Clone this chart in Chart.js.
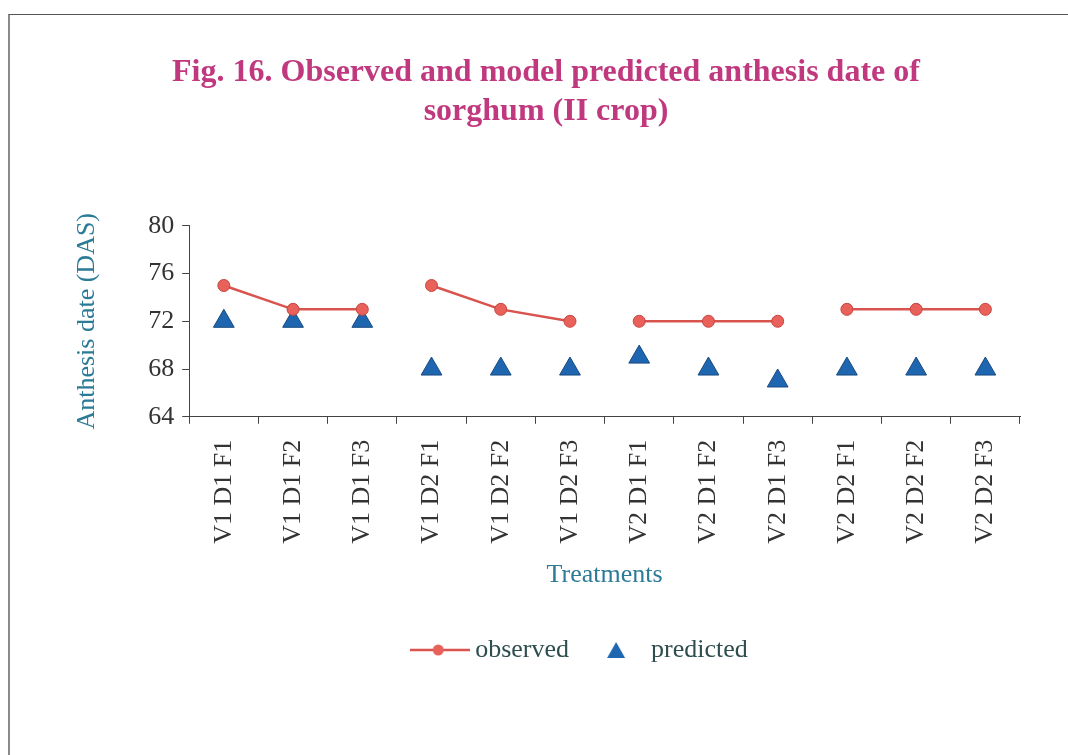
<!DOCTYPE html>
<html>
<head>
<meta charset="utf-8">
<script src="https://cdn.jsdelivr.net/npm/chart.js@4.4.1/dist/chart.umd.min.js"></script>
<style>
    html, body { margin: 0; padding: 0; background: #fff; }
    #wrap { position: absolute; left: 0; top: 0; width: 1068px; height: 755px; }
    #frame { position: absolute; left: 8px; top: 14px; right: 0; bottom: 0;
             border-top: 1px solid #555; border-left: 2px solid #8a8a8a; pointer-events: none; }
</style>
</head>
<body>
<div id="wrap"><canvas id="anthesisChart"></canvas></div>
<div id="frame"></div>
<script>
// Chart data
const treatments = ['V1 D1 F1', 'V1 D1 F2', 'V1 D1 F3', 'V1 D2 F1', 'V1 D2 F2', 'V1 D2 F3',
                    'V2 D1 F1', 'V2 D1 F2', 'V2 D1 F3', 'V2 D2 F1', 'V2 D2 F2', 'V2 D2 F3'];
const observed = [75, 73, 73, 75, 73, 72, 72, 72, 72, 73, 73, 73];
const predicted = [72, 72, 72, 68, 68, 68, 69, 68, 67, 68, 68, 68];
const groupSize = 3;   // observed line is broken between treatment groups
const yTicks = [64, 68, 72, 76, 80];

const serif = "'Liberation Serif', 'Times New Roman', serif";
const lineColor = '#d9544e';
const triColor = '#1f66b1';

// Legend symbols
function legendLine() {
    const c = document.createElement('canvas');
    c.width = 60; c.height = 14;
    const g = c.getContext('2d');
    g.strokeStyle = lineColor; g.lineWidth = 2.5;
    g.beginPath(); g.moveTo(0, 7); g.lineTo(60, 7); g.stroke();
    g.fillStyle = '#e8615a'; g.beginPath(); g.arc(28, 7, 5.5, 0, Math.PI * 2); g.fill();
    return c;
}
function legendTriangle() {
    const c = document.createElement('canvas');
    c.width = 20; c.height = 18;
    const g = c.getContext('2d');
    g.fillStyle = triColor;
    g.beginPath(); g.moveTo(10, 1); g.lineTo(19, 17); g.lineTo(1, 17); g.closePath(); g.fill();
    return c;
}

// nudge the legend to the right, the original one is not centred on the title
const legendShift = {
    id: 'legendShift',
    afterLayout(chart) {
        chart.legend.left += 37;
        chart.legend.right += 37;
    }
};

document.addEventListener('DOMContentLoaded', function () {
    const ctx = document.getElementById('anthesisChart').getContext('2d');
    new Chart(ctx, {
        type: 'line',
        data: {
            labels: treatments,
            datasets: [{
                label: 'observed',
                data: observed,
                borderColor: lineColor,
                borderWidth: 2.5,
                pointBackgroundColor: '#e8615a',
                pointBorderColor: '#c9443e',
                pointBorderWidth: 1,
                pointRadius: 6,
                tension: 0,
                segment: {
                    borderColor: c => (c.p0DataIndex % groupSize === groupSize - 1) ? 'transparent' : undefined
                }
            }, {
                label: 'predicted',
                data: predicted,
                showLine: false,
                pointStyle: 'triangle',
                pointRadius: 12,
                pointBackgroundColor: triColor,
                pointBorderColor: '#184a80',
                pointBorderWidth: 1
            }]
        },
        plugins: [legendShift],
        options: {
            responsive: true,
            maintainAspectRatio: false,
            animation: false,
            layout: { padding: { left: 72, right: 48, top: 0, bottom: 82 } },
            plugins: {
                title: {
                    display: true,
                    text: ['Fig. 16. Observed and model predicted anthesis date of', 'sorghum (II crop)'],
                    color: '#c0397f',
                    font: { family: serif, size: 32, weight: 'bold', lineHeight: 1.2 },
                    padding: { top: 54, bottom: 95 }
                },
                legend: {
                    position: 'bottom',
                    labels: {
                        usePointStyle: true,
                        pointStyleWidth: 44,
                        padding: 25,
                        color: '#2e4d4f',
                        font: { family: serif, size: 26 },
                        generateLabels: chart => chart.data.datasets.map((ds, i) => ({
                            text: ds.label,
                            pointStyle: i === 0 ? legendLine() : legendTriangle(),
                            fillStyle: 'transparent',
                            strokeStyle: 'transparent',
                            lineWidth: 0,
                            fontColor: '#2e4d4f',
                            datasetIndex: i
                        }))
                    }
                },
                tooltip: { enabled: false }
            },
            scales: {
                x: {
                    offset: true,
                    grid: { offset: true, drawOnChartArea: false, drawTicks: true, tickLength: 7, color: '#444' },
                    border: { display: true, color: '#444', width: 1 },
                    ticks: { color: '#333', font: { family: serif, size: 26 }, maxRotation: 90, minRotation: 90, padding: 16 },
                    title: {
                        display: true, text: 'Treatments', color: '#2b7a96',
                        font: { family: serif, size: 26 }, padding: { top: 0, bottom: 21 }
                    }
                },
                y: {
                    min: 64, max: 80,
                    afterBuildTicks: axis => { axis.ticks = yTicks.map(v => ({ value: v })); },
                    grid: { drawOnChartArea: false, drawTicks: true, tickLength: 7, color: '#444' },
                    border: { display: true, color: '#444', width: 1 },
                    ticks: { color: '#333', font: { family: serif, size: 26 }, padding: 8 },
                    title: {
                        display: true, text: 'Anthesis date (DAS)', color: '#2b7a96',
                        font: { family: serif, size: 26 }, padding: { top: 0, bottom: 37 }
                    }
                }
            }
        }
    });
});
</script>
</body>
</html>
